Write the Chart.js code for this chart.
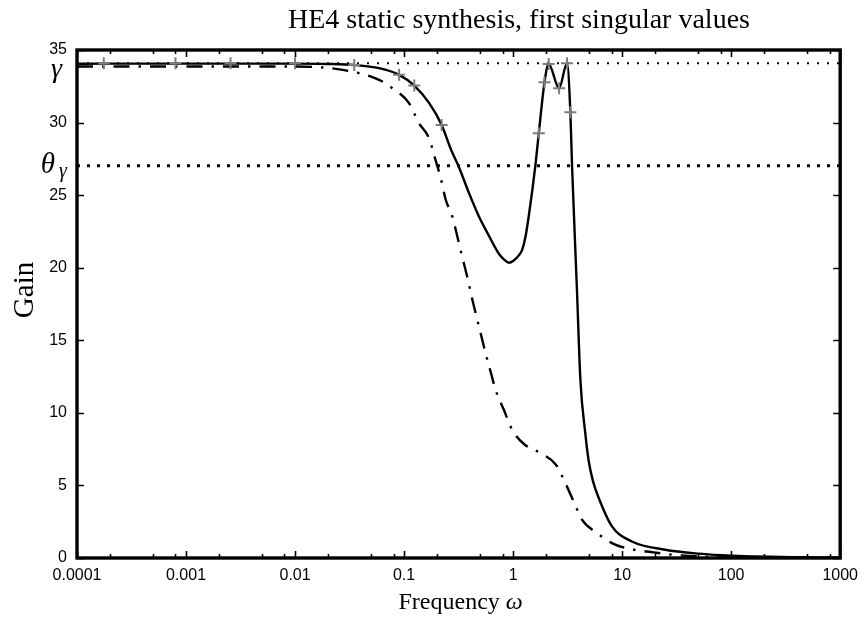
<!DOCTYPE html>
<html><head><meta charset="utf-8">
<script src="https://cdn.jsdelivr.net/npm/chart.js@4"></script>
<style>html,body{margin:0;padding:0;background:#fff}#wrap{width:866px;height:621px;position:relative}</style>
</head><body><div id="wrap"><canvas id="c" width="866" height="621"></canvas></div>
<script>
// ---- texts ----
const titleText = "HE4 static synthesis, first singular values";
const xTitleText = "Frequency";
const xTitleSymbol = "\u03C9";
const yTitleText = "Gain";
const gammaLabel = "\u03B3";
const thetaLabel = "\u03B8";

// ---- ticks ----
const xTickValues = [1e-4, 1e-3, 1e-2, 1e-1, 1, 10, 100, 1000];
const xTickLabels = ["0.0001", "0.001", "0.01", "0.1", "1", "10", "100", "1000"];
const xMinorMultipliers = [2, 5, 8];
const yTickValues = [0, 5, 10, 15, 20, 25, 30, 35];

// ---- reference levels ----
const gammaLevel = 34.09;
const thetaLevel = 27.02;

// ---- solid curve (first singular value, closed loop) ----
const solidFreq = [1e-4, 1.76e-4, 8e-4, 2.56e-3, 0.01, 0.02, 0.0349, 0.059, 0.090, 0.124, 0.170, 0.221, 0.270, 0.314, 0.394, 0.486, 0.600, 0.740, 0.822, 0.913, 1.015, 1.128, 1.21, 1.30, 1.39, 1.60, 1.72, 1.94, 2.12, 2.64, 3.12, 3.35, 3.47, 3.85, 4.14, 4.59, 4.93, 5.40, 6.10, 8.06, 12.3, 24.8, 50, 100, 1000];
const solidGain = [34.05, 34.06, 34.06, 34.06, 34.06, 34.04, 33.97, 33.75, 33.29, 32.55, 31.34, 29.84, 28.12, 27.04, 25.14, 23.53, 22.20, 20.96, 20.58, 20.34, 20.50, 20.85, 21.23, 22.15, 23.53, 27.04, 29.26, 32.78, 34.04, 32.36, 34.08, 30.71, 27.04, 18.48, 12.28, 8.60, 6.70, 5.30, 4.13, 2.18, 1.14, 0.57, 0.30, 0.16, 0.02];

// ---- dash-dot curve ----
const dashFreq = [1e-4, 0.01, 0.0273, 0.059, 0.078, 0.111, 0.137, 0.170, 0.188, 0.217, 0.241, 0.277, 0.308, 0.341, 0.379, 0.413, 0.453, 0.503, 0.559, 0.621, 0.690, 0.822, 0.979, 1.25, 1.78, 2.47, 3.01, 3.59, 4.28, 5.87, 8.65, 12.3, 19.4, 28.5, 100, 1000];
const dashGain = [33.86, 33.86, 33.63, 32.94, 32.37, 31.34, 29.96, 28.90, 27.78, 26.17, 24.68, 23.53, 22.15, 20.77, 19.39, 18.13, 16.87, 15.50, 14.12, 12.85, 11.60, 10.21, 8.84, 7.87, 7.23, 6.43, 5.17, 3.90, 2.64, 1.72, 0.92, 0.60, 0.39, 0.23, 0.05, 0.01];

// ---- gray '+' markers ----
const markerFreq = [1.76e-4, 8.0e-4, 2.56e-3, 0.01, 0.0349, 0.090, 0.124, 0.221, 1.72, 1.94, 2.12, 2.64, 3.12, 3.35];
const markerGain = [34.09, 34.09, 34.09, 34.09, 33.97, 33.29, 32.55, 29.84, 29.26, 32.78, 34.04, 32.36, 34.08, 30.71];

const toPts = (xs, ys) => xs.map((x, i) => ({ x: x, y: ys[i] }));
const xMin = xTickValues[0], xMax = xTickValues[xTickValues.length - 1];
const yMin = yTickValues[0], yMax = yTickValues[yTickValues.length - 1];

const serif = "'Liberation Serif', 'Times New Roman', serif";
const sans = "'Liberation Sans', Arial, sans-serif";

const decorPlugin = {
  id: 'decor',
  afterDraw(chart) {
    const ctx = chart.ctx;
    const a = chart.chartArea;
    const xs = chart.scales.x, ys = chart.scales.y;
    ctx.save();
    ctx.strokeStyle = '#000';
    ctx.fillStyle = '#000';
    ctx.lineWidth = 1.6;
    ctx.beginPath();
    xTickValues.forEach(v => {
      const px = Math.round(xs.getPixelForValue(v)) + 0.5;
      ctx.moveTo(px, a.bottom); ctx.lineTo(px, a.bottom - 7);
      ctx.moveTo(px, a.top); ctx.lineTo(px, a.top + 7);
    });
    for (let d = 0; d < xTickValues.length - 1; d++) {
      xMinorMultipliers.forEach(m => {
        const v = xTickValues[d] * m;
        const px = Math.round(xs.getPixelForValue(v)) + 0.5;
        ctx.moveTo(px, a.bottom); ctx.lineTo(px, a.bottom - 4);
        ctx.moveTo(px, a.top); ctx.lineTo(px, a.top + 4);
      });
    }
    yTickValues.forEach(v => {
      const py = Math.round(ys.getPixelForValue(v)) + 0.5;
      ctx.moveTo(a.left, py); ctx.lineTo(a.left + 7, py);
      ctx.moveTo(a.right, py); ctx.lineTo(a.right - 7, py);
    });
    ctx.stroke();
    ctx.lineWidth = 3.4;
    ctx.strokeRect(a.left, a.top, a.right - a.left, a.bottom - a.top);

    // gamma / theta labels
    const gy = ys.getPixelForValue(gammaLevel);
    const ty = ys.getPixelForValue(thetaLevel);
    ctx.textAlign = 'right';
    ctx.textBaseline = 'alphabetic';
    ctx.font = "italic 28px " + serif;
    ctx.fillText(gammaLabel, a.left - 15, gy + 14);
    ctx.font = "italic 29px " + serif;
    ctx.fillText(thetaLabel, a.left - 22, ty + 7);
    ctx.font = "italic 20px " + serif;
    ctx.fillText(gammaLabel, a.left - 10, ty + 11);

    // title
    ctx.textAlign = 'center';
    ctx.textBaseline = 'alphabetic';
    ctx.font = "28px " + serif;
    ctx.fillText(titleText, 519, 28);

    // x axis title
    ctx.font = "24px " + serif;
    const w1 = ctx.measureText(xTitleText + " ").width;
    ctx.font = "italic 24px " + serif;
    const w2 = ctx.measureText(xTitleSymbol).width;
    const cx = (a.left + a.right) / 2 + 2;
    const start = cx - (w1 + w2) / 2;
    ctx.textAlign = 'left';
    ctx.font = "24px " + serif;
    ctx.fillText(xTitleText + " ", start, 609);
    ctx.font = "italic 24px " + serif;
    ctx.fillText(xTitleSymbol, start + w1, 609);

    // y axis title
    ctx.save();
    ctx.translate(33, (a.top + a.bottom) / 2 - 14);
    ctx.rotate(-Math.PI / 2);
    ctx.textAlign = 'center';
    ctx.textBaseline = 'alphabetic';
    ctx.font = "29px " + serif;
    ctx.fillText(yTitleText, 0, 0);
    ctx.restore();
    ctx.restore();
  }
};

new Chart(document.getElementById('c'), {
  type: 'line',
  data: {
    datasets: [
      { label: 'markers', data: toPts(markerFreq, markerGain), showLine: false,
        pointStyle: 'cross', pointRadius: 6, pointBorderWidth: 2,
        pointBorderColor: '#7c7c7c', pointBackgroundColor: '#7c7c7c', order: 0 },
      { label: 'solid', data: toPts(solidFreq, solidGain), borderColor: '#000', borderWidth: 2.4,
        pointRadius: 0, cubicInterpolationMode: 'monotone', order: 1 },
      { label: 'dashdot', data: toPts(dashFreq, dashGain), borderColor: '#000', borderWidth: 2.4,
        borderDash: [16, 9, 2.5, 9], pointRadius: 0, cubicInterpolationMode: 'monotone', order: 2 },
      { label: 'gamma', data: toPts([xMin, xMax], [gammaLevel, gammaLevel]), borderColor: '#000',
        borderWidth: 2, borderDash: [2, 8], pointRadius: 0, order: 3 },
      { label: 'theta', data: toPts([xMin, xMax], [thetaLevel, thetaLevel]), borderColor: '#000',
        borderWidth: 3, borderDash: [3, 7], pointRadius: 0, order: 4 }
    ]
  },
  options: {
    responsive: false,
    animation: false,
    devicePixelRatio: 1,
    layout: { padding: { top: 50, right: 24, left: 0, bottom: 0 } },
    plugins: { legend: { display: false }, title: { display: false }, tooltip: { enabled: false } },
    scales: {
      x: {
        type: 'logarithmic', min: xMin, max: xMax,
        grid: { display: false, drawTicks: false },
        border: { display: false },
        afterBuildTicks: s => { s.ticks = xTickValues.map(v => ({ value: v })); },
        afterFit: s => { s.height = 63; },
        ticks: {
          autoSkip: false, maxRotation: 0, padding: 8, color: '#000',
          font: { family: sans, size: 16 },
          callback: (v) => { const i = xTickValues.findIndex(t => Math.abs(Math.log10(t) - Math.log10(v)) < 1e-6); return i >= 0 ? xTickLabels[i] : ''; }
        }
      },
      y: {
        type: 'linear', min: yMin, max: yMax,
        grid: { display: false, drawTicks: false },
        border: { display: false },
        afterBuildTicks: s => { s.ticks = yTickValues.map(v => ({ value: v })); },
        afterFit: s => { s.width = 77; },
        ticks: { padding: 10, color: '#000', font: { family: sans, size: 16 } }
      }
    }
  },
  plugins: [decorPlugin]
});
</script></body></html>
